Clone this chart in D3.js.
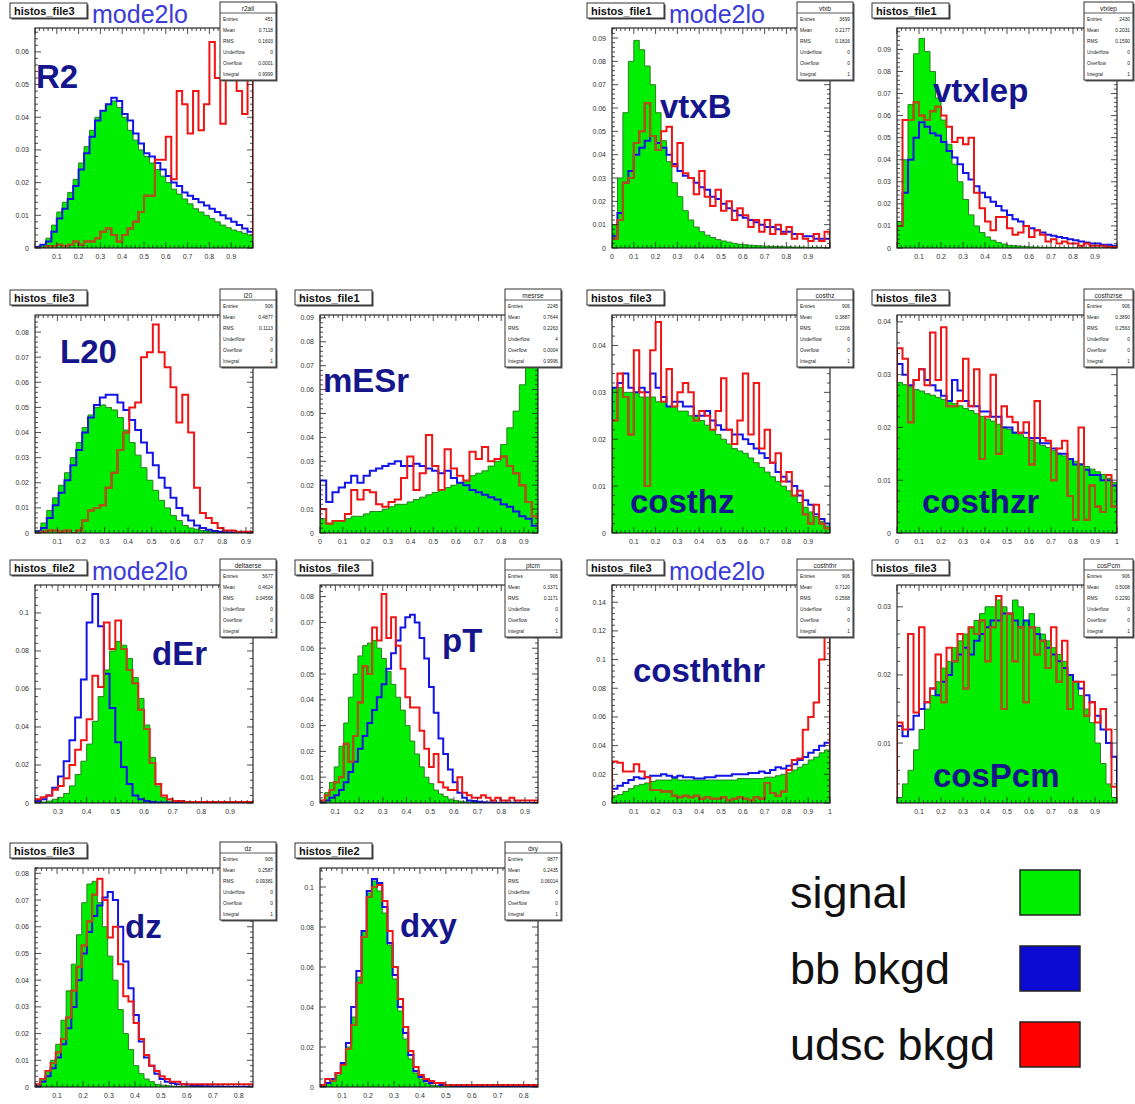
<!DOCTYPE html>
<html>
<head>
<meta charset="utf-8">
<script src="https://cdn.jsdelivr.net/npm/d3@7"></script>
<style>
  body { margin: 0; background: #fff; }
  svg { display: block; font-family: "Liberation Sans", Arial, Helvetica, sans-serif; }
</style>
</head>
<body>
<script>
// ---------------- histogram contents (normalised bin heights) ----------------
// Each variable: signal (filled), bb background, udsc background.

const r2Range = [0, 1];
const r2Signal = [0.0005,0.001,0.003,0.007,0.011,0.014,0.017,0.021,0.026,0.031,
  0.036,0.040,0.042,0.044,0.045,0.043,0.040,0.036,0.033,0.030,
  0.028,0.026,0.024,0.022,0.020,0.018,0.0165,0.015,0.0135,0.012,
  0.011,0.010,0.009,0.008,0.007,0.0062,0.0055,0.005,0.0045,0.004];
const r2BB = [0.0003,0.001,0.002,0.005,0.009,0.012,0.015,0.019,0.024,0.029,
  0.034,0.039,0.042,0.044,0.046,0.045,0.041,0.039,0.035,0.032,
  0.029,0.028,0.026,0.024,0.022,0.020,0.019,0.017,0.016,0.015,
  0.014,0.013,0.012,0.011,0.010,0.009,0.008,0.007,0.006,0.005];
const r2Udsc = [0,0,0.0005,0.0005,0.001,0.0005,0.001,0.002,0.001,0.002,
  0.002,0.003,0.005,0.006,0.004,0.002,0.004,0.006,0.008,0.011,
  0.016,0.016,0.027,0.027,0.034,0.021,0.048,0.044,0.035,0.048,
  0.036,0.044,0.063,0.052,0.038,0.052,0.060,0.048,0.041,0.052];

const vtxbRange = [0, 1];
const vtxbSignal = [0.010,0.030,0.058,0.080,0.089,0.085,0.078,0.070,0.058,0.046,
  0.037,0.028,0.022,0.016,0.012,0.009,0.007,0.0055,0.0045,0.0036,
  0.003,0.0025,0.002,0.0016,0.0014,0.0012,0.001,0.0009,0.0008,0.0007,
  0.0006,0.0005,0.0005,0.0004,0.0004,0.0003,0.0003,0.0003,0.0002,0.0002];
const vtxbBB = [0.005,0.015,0.028,0.033,0.040,0.043,0.046,0.048,0.045,0.043,
  0.040,0.036,0.033,0.031,0.030,0.028,0.026,0.025,0.022,0.021,
  0.019,0.017,0.016,0.014,0.013,0.012,0.011,0.010,0.009,0.009,
  0.008,0.007,0.007,0.006,0.006,0.005,0.005,0.004,0.004,0.004];
const vtxbUdsc = [0.004,0.012,0.028,0.030,0.045,0.050,0.062,0.048,0.042,0.050,
  0.052,0.035,0.045,0.032,0.030,0.023,0.033,0.022,0.018,0.025,
  0.016,0.020,0.012,0.017,0.014,0.009,0.012,0.007,0.012,0.006,
  0.010,0.006,0.009,0.004,0.006,0.004,0.003,0.006,0.003,0.007];

const vtxlepRange = [0, 1];
const vtxlepSignal = [0.012,0.040,0.065,0.088,0.095,0.089,0.080,0.068,0.058,0.047,
  0.038,0.030,0.022,0.015,0.010,0.007,0.005,0.0035,0.0025,0.0018,
  0.0012,0.001,0.0008,0.0006,0.0005,0.0004,0.0003,0.0003,0.0002,0.0002,
  0.0002,0.0001,0.0001,0.0001,0.0001,0.0001,0.0001,0.0001,0.0001,0.0001];
const vtxlepBB = [0.010,0.025,0.040,0.050,0.057,0.055,0.052,0.051,0.048,0.044,
  0.041,0.038,0.034,0.031,0.028,0.025,0.023,0.021,0.019,0.017,
  0.015,0.013,0.012,0.010,0.009,0.008,0.007,0.006,0.0055,0.005,
  0.0045,0.004,0.0035,0.003,0.0025,0.002,0.002,0.0015,0.0015,0.001];
const vtxlepUdsc = [0.010,0.058,0.058,0.066,0.060,0.058,0.062,0.064,0.060,0.055,
  0.048,0.050,0.047,0.050,0.025,0.018,0.012,0.008,0.014,0.014,
  0.009,0.006,0.007,0.010,0.005,0.008,0.006,0.003,0.004,0.002,
  0.003,0.002,0.002,0.001,0.002,0.001,0.001,0.001,0.0005,0.0005];

const l20Range = [0.005, 0.93];
const l20Signal = [0.001,0.004,0.009,0.014,0.019,0.024,0.030,0.036,0.042,0.047,
  0.050,0.051,0.050,0.049,0.046,0.041,0.036,0.031,0.026,0.021,
  0.017,0.013,0.010,0.007,0.005,0.003,0.002,0.0015,0.001,0.0007,
  0.0005,0.0003,0.0002,0.0002,0.0001,0.0001,0.0001];
const l20BB = [0.0005,0.002,0.006,0.011,0.016,0.021,0.027,0.033,0.040,0.046,
  0.051,0.054,0.055,0.055,0.052,0.049,0.045,0.041,0.036,0.032,
  0.027,0.022,0.018,0.014,0.010,0.007,0.005,0.003,0.002,0.0013,
  0.0008,0.0005,0.0003,0.0002,0.0001,0.0001,0.0001];
const l20Udsc = [0,0.0005,0.001,0.001,0.0005,0.001,0,0.001,0.005,0.009,
  0.010,0.011,0.018,0.024,0.033,0.040,0.050,0.052,0.070,0.072,
  0.083,0.072,0.066,0.058,0.044,0.055,0.040,0.018,0.008,0.006,
  0.004,0.002,0.001,0.001,0.0005,0.0005,0.0005];

const mesRange = [0, 0.9625];
const mesSignal = [0.006,0.004,0.005,0.005,0.006,0.007,0.007,0.008,0.009,0.009,
  0.010,0.011,0.012,0.012,0.013,0.014,0.015,0.016,0.017,0.018,
  0.019,0.020,0.021,0.022,0.024,0.025,0.026,0.028,0.030,0.037,
  0.044,0.051,0.062,0.070,0.087];
const mesBB = [0.022,0.013,0.017,0.019,0.021,0.024,0.021,0.024,0.026,0.027,
  0.028,0.029,0.030,0.028,0.028,0.029,0.028,0.027,0.026,0.025,
  0.026,0.023,0.021,0.020,0.018,0.017,0.016,0.015,0.014,0.012,
  0.011,0.009,0.007,0.006,0.003];
const mesUdsc = [0.010,0.004,0.005,0.005,0.008,0.018,0.014,0.018,0.017,0.012,
  0.011,0.013,0.014,0.023,0.032,0.018,0.025,0.041,0.028,0.018,
  0.035,0.027,0.024,0.022,0.034,0.031,0.036,0.030,0.031,0.032,
  0.028,0.025,0.020,0.013,0.007];

const costhzRange = [0, 1];
const costhzSignal = [0.031,0.031,0.030,0.030,0.030,0.029,0.029,0.029,0.028,0.028,
  0.027,0.027,0.026,0.026,0.025,0.025,0.024,0.023,0.022,0.021,
  0.020,0.019,0.018,0.0175,0.017,0.016,0.015,0.014,0.013,0.012,
  0.011,0.010,0.009,0.008,0.0065,0.0055,0.0045,0.0035,0.0025,0.0015];
const costhzBB = [0.031,0.032,0.034,0.031,0.030,0.031,0.030,0.034,0.031,0.029,
  0.027,0.028,0.028,0.027,0.027,0.025,0.025,0.026,0.024,0.023,
  0.022,0.022,0.021,0.021,0.020,0.019,0.018,0.017,0.016,0.015,
  0.013,0.012,0.011,0.010,0.008,0.007,0.006,0.004,0.003,0.002];
const costhzUdsc = [0.024,0.034,0.029,0.021,0.039,0.030,0.010,0.039,0.045,0.028,
  0.035,0.027,0.030,0.032,0.030,0.024,0.026,0.025,0.022,0.026,
  0.033,0.022,0.019,0.024,0.034,0.021,0.032,0.018,0.022,0.015,
  0.017,0.011,0.013,0.008,0.009,0.004,0.002,0.006,0.002,0.001];

const costhzrRange = [0, 1];
const costhzrSignal = [0.0285,0.0281,0.0277,0.0272,0.0269,0.0264,0.0261,0.0257,0.0253,0.0249,
  0.0245,0.0241,0.0236,0.0232,0.0226,0.0221,0.0216,0.0212,0.0206,0.0201,
  0.0196,0.0191,0.0186,0.0181,0.0176,0.0171,0.0166,0.0162,0.0156,0.0151,
  0.0146,0.0141,0.0136,0.0131,0.0126,0.0121,0.0116,0.0111,0.0104,0.0096];
const costhzrBB = [0.032,0.030,0.028,0.029,0.031,0.029,0.028,0.027,0.026,0.025,
  0.029,0.027,0.025,0.024,0.024,0.023,0.023,0.022,0.022,0.020,
  0.020,0.019,0.019,0.019,0.018,0.018,0.017,0.017,0.016,0.015,
  0.015,0.014,0.013,0.013,0.012,0.011,0.011,0.010,0.010,0.009];
const costhzrUdsc = [0.035,0.033,0.021,0.029,0.031,0.028,0.038,0.029,0.039,0.024,
  0.024,0.025,0.033,0.024,0.031,0.014,0.022,0.030,0.015,0.024,
  0.022,0.021,0.019,0.021,0.013,0.025,0.018,0.0175,0.010,0.016,
  0.0175,0.007,0.0025,0.020,0.0025,0.009,0.005,0.004,0.011,0.005];

const derRange = [0.22, 0.98];
const derSignal = [0.0003,0.0005,0.001,0.002,0.003,0.005,0.009,0.015,0.022,0.031,
  0.043,0.056,0.070,0.080,0.085,0.083,0.076,0.066,0.055,0.041,
  0.024,0.009,0.003,0.001,0.0005,0.0003,0.0002,0.0001,0.0001,0.0001,
  0,0,0,0,0,0,0,0];
const derBB = [0.001,0.002,0.004,0.008,0.014,0.022,0.033,0.045,0.065,0.095,
  0.110,0.093,0.068,0.050,0.032,0.019,0.010,0.004,0.002,0.001,
  0.0005,0.0003,0.0002,0.0001,0.0001,0.0001,0,0,0,0,
  0,0,0,0,0,0,0,0];
const derUdsc = [0.002,0.003,0.004,0.007,0.009,0.013,0.020,0.028,0.033,0.044,
  0.067,0.061,0.095,0.081,0.096,0.081,0.070,0.063,0.049,0.039,
  0.021,0.010,0.004,0.002,0.001,0.001,0.0005,0.0005,0.0005,0.0005,
  0.0005,0.0005,0.0005,0.0005,0.0005,0.0005,0.0005,0.0005];

const ptRange = [0.035, 0.955];
const ptSignal = [0.001,0.004,0.008,0.014,0.022,0.031,0.041,0.050,0.057,0.061,
  0.062,0.063,0.060,0.056,0.051,0.046,0.041,0.036,0.030,0.024,
  0.019,0.014,0.010,0.0075,0.005,0.0035,0.0025,0.0015,0.001,0.0007,
  0.0005,0.0003,0.0002,0.0002,0.0001,0.0001,0.0001,0.0001,0.0001,0.0001,
  0.0001,0.0001,0,0,0,0];
const ptBB = [0.0003,0.001,0.002,0.003,0.005,0.008,0.012,0.016,0.021,0.026,
  0.031,0.036,0.041,0.046,0.052,0.058,0.063,0.068,0.072,0.073,
  0.070,0.064,0.056,0.045,0.035,0.025,0.019,0.013,0.008,0.004,
  0.002,0.001,0.0008,0.0005,0.0003,0.0002,0.0002,0.0001,0.0001,0.0001,
  0.0001,0.0001,0,0,0,0];
const ptUdsc = [0.001,0.003,0.005,0.008,0.010,0.023,0.016,0.026,0.039,0.053,
  0.050,0.068,0.063,0.081,0.064,0.072,0.061,0.052,0.041,0.037,
  0.037,0.028,0.021,0.014,0.019,0.008,0.006,0.005,0.005,0.010,
  0.004,0.003,0.002,0.002,0.003,0.002,0.001,0.002,0.001,0.001,
  0.002,0.001,0.001,0.001,0.001,0.001];

const cosththrRange = [0, 1];
const cosththrSignal = [0.005,0.006,0.008,0.010,0.012,0.013,0.014,0.015,0.016,0.016,
  0.016,0.017,0.016,0.016,0.016,0.016,0.016,0.016,0.016,0.016,
  0.016,0.016,0.016,0.017,0.017,0.017,0.017,0.017,0.018,0.018,
  0.019,0.020,0.021,0.023,0.025,0.027,0.030,0.032,0.035,0.037];
const cosththrBB = [0.010,0.012,0.014,0.016,0.018,0.017,0.018,0.019,0.019,0.020,
  0.019,0.018,0.019,0.018,0.018,0.017,0.017,0.018,0.018,0.019,
  0.019,0.019,0.020,0.020,0.020,0.021,0.021,0.022,0.021,0.023,
  0.025,0.024,0.026,0.027,0.030,0.032,0.035,0.037,0.040,0.042];
const cosththrUdsc = [0.029,0.028,0.022,0.022,0.027,0.022,0.018,0.009,0.009,0.008,
  0.008,0.005,0.004,0.005,0.004,0.005,0.003,0.004,0.003,0.003,
  0.004,0.002,0.003,0.004,0.003,0.002,0.004,0.003,0.014,0.007,
  0.005,0.008,0.023,0.030,0.031,0.051,0.060,0.070,0.100,0.145];

const cospcmRange = [0, 1];
const cospcmSignal = [0.002,0.004,0.006,0.009,0.012,0.015,0.017,0.019,0.021,0.022,
  0.024,0.025,0.026,0.027,0.028,0.029,0.030,0.030,0.031,0.030,
  0.029,0.031,0.030,0.028,0.029,0.027,0.026,0.025,0.024,0.023,
  0.022,0.020,0.019,0.017,0.015,0.013,0.010,0.007,0.004,0.002];
const cospcmBB = [0.0125,0.011,0.012,0.014,0.015,0.016,0.018,0.017,0.019,0.020,
  0.022,0.023,0.024,0.023,0.025,0.026,0.027,0.028,0.028,0.029,
  0.029,0.028,0.027,0.028,0.027,0.026,0.025,0.024,0.023,0.022,
  0.021,0.020,0.019,0.018,0.017,0.016,0.014,0.012,0.010,0.008];
const cospcmUdsc = [0.013,0.012,0.026,0.0145,0.027,0.016,0.018,0.023,0.016,0.024,
  0.022,0.026,0.018,0.027,0.026,0.028,0.022,0.027,0.0316,0.015,
  0.029,0.022,0.027,0.016,0.027,0.023,0.025,0.021,0.027,0.019,
  0.025,0.015,0.019,0.019,0.014,0.016,0.013,0.015,0.012,0.0036];

const dzRange = [0.015, 0.855];
const dzSignal = [0.001,0.003,0.006,0.010,0.016,0.025,0.036,0.046,0.057,0.069,
  0.076,0.077,0.069,0.060,0.049,0.040,0.029,0.020,0.014,0.008,
  0.005,0.003,0.002,0.001,0.0007,0.0005,0.0003,0.0002,0.0002,0.0001,
  0.0001,0.0001,0.0001,0.0001,0,0,0,0,0,0,0,0];
const dzBB = [0.0005,0.002,0.004,0.007,0.011,0.016,0.022,0.030,0.040,0.050,
  0.058,0.064,0.068,0.071,0.073,0.070,0.060,0.047,0.037,0.027,
  0.017,0.011,0.008,0.005,0.003,0.002,0.0015,0.001,0.001,0.0008,
  0.0005,0.0005,0.0003,0.0003,0.0002,0.0002,0.0001,0.0001,0.0001,0.0001,0.0001,0.0001];
const dzUdsc = [0.001,0.003,0.006,0.009,0.013,0.018,0.026,0.036,0.045,0.053,
  0.062,0.072,0.078,0.070,0.056,0.060,0.046,0.034,0.032,0.024,
  0.018,0.012,0.008,0.006,0.004,0.003,0.002,0.002,0.001,0.001,
  0.001,0.001,0.001,0.001,0.001,0.001,0.001,0.001,0.001,0.001,0.001,0.001];

const dxyRange = [0.015, 0.855];
const dxySignal = [0.0005,0.002,0.004,0.006,0.011,0.020,0.035,0.055,0.078,0.097,
  0.103,0.098,0.087,0.071,0.054,0.038,0.024,0.014,0.007,0.004,
  0.002,0.001,0.0007,0.0005,0.0003,0.0002,0.0002,0.0001,0.0001,0.0001,
  0,0,0,0,0,0,0,0,0,0,0,0];
const dxyBB = [0.0005,0.002,0.004,0.007,0.012,0.022,0.040,0.058,0.078,0.098,
  0.104,0.102,0.090,0.072,0.056,0.040,0.027,0.016,0.008,0.005,
  0.003,0.002,0.002,0.001,0.001,0.0008,0.0005,0.0005,0.0003,0.0003,
  0.0002,0.0002,0.0001,0.0001,0.0001,0.0001,0.0001,0.0001,0,0,0,0];
const dxyUdsc = [0.001,0.004,0.003,0.007,0.011,0.019,0.031,0.052,0.075,0.095,
  0.100,0.101,0.093,0.078,0.060,0.044,0.030,0.018,0.010,0.006,
  0.004,0.003,0.002,0.002,0.001,0.001,0.001,0.001,0.001,0.001,
  0.001,0.001,0.001,0.001,0.001,0.001,0.001,0.001,0.001,0.001,0.001,0.001];

// ---------------- axis ranges and tick labels ----------------
const yRanges = [[0,0.0673],[0,0.0943],[0,0.0997],[0,0.0868],[0,0.0912],[0,0.0465],[0,0.0413],
                 [0,0.1147],[0,0.0845],[0,0.152],[0.0012,0.0332],[0,0.082],[0,0.1095]];
const yTickSteps = [0.01,0.01,0.01,0.01,0.01,0.01,0.01,0.02,0.01,0.02,0.01,0.01,0.02];
const yTickLabels = [
  [0,0.01,0.02,0.03,0.04,0.05,0.06],
  [0,0.01,0.02,0.03,0.04,0.05,0.06,0.07,0.08,0.09],
  [0,0.01,0.02,0.03,0.04,0.05,0.06,0.07,0.08,0.09],
  [0,0.01,0.02,0.03,0.04,0.05,0.06,0.07,0.08],
  [0,0.01,0.02,0.03,0.04,0.05,0.06,0.07,0.08,0.09],
  [0,0.01,0.02,0.03,0.04],
  [0,0.01,0.02,0.03,0.04],
  [0,0.02,0.04,0.06,0.08,0.1],
  [0,0.01,0.02,0.03,0.04,0.05,0.06,0.07,0.08],
  [0,0.02,0.04,0.06,0.08,0.1,0.12,0.14],
  [0.01,0.02,0.03],
  [0,0.01,0.02,0.03,0.04,0.05,0.06,0.07,0.08],
  [0,0.02,0.04,0.06,0.08,0.1]
];
const xTickLabels = [
  [0.1,0.2,0.3,0.4,0.5,0.6,0.7,0.8,0.9],
  [0,0.1,0.2,0.3,0.4,0.5,0.6,0.7,0.8,0.9],
  [0.1,0.2,0.3,0.4,0.5,0.6,0.7,0.8,0.9],
  [0.1,0.2,0.3,0.4,0.5,0.6,0.7,0.8,0.9],
  [0,0.1,0.2,0.3,0.4,0.5,0.6,0.7,0.8,0.9],
  [0.1,0.2,0.3,0.4,0.5,0.6,0.7,0.8,0.9],
  [0,0.1,0.2,0.3,0.4,0.5,0.6,0.7,0.8,0.9,1],
  [0.3,0.4,0.5,0.6,0.7,0.8,0.9],
  [0.1,0.2,0.3,0.4,0.5,0.6,0.7,0.8,0.9],
  [0.1,0.2,0.3,0.4,0.5,0.6,0.7,0.8,0.9,1],
  [0.1,0.2,0.3,0.4,0.5,0.6,0.7,0.8,0.9],
  [0.1,0.2,0.3,0.4,0.5,0.6,0.7,0.8],
  [0.1,0.2,0.3,0.4,0.5,0.6,0.7,0.8]
];

// ---------------- labels ----------------
const varLabels = ["R2","vtxB","vtxlep","L20","mESr","costhz","costhzr","dEr","pT","cosththr","cosPcm","dz","dxy"];
const fileTitles = ["histos_file3","histos_file1","histos_file1","histos_file3","histos_file1","histos_file3",
                    "histos_file3","histos_file2","histos_file3","histos_file3","histos_file3","histos_file3","histos_file2"];
const modeTags = ["mode2lo","mode2lo","","","","","","mode2lo","","mode2lo","","",""];
const statsHeaders = ["r2all","vtxb","vtxlep","l20","mesrse","costhz","costhzrse","deltaerse","ptcm","cosththr","cosPcm","dz","dxy"];
const statsRowNames = ["Entries","Mean","RMS","Underflow","Overflow","Integral"];
const statsEntries = ["451","3699","2430","906","2245","906","906","5677","906","906","906","906","9877"];
const statsMean = ["0.7118","0.2177","0.2031","0.4877","0.7644","0.3887","0.3890","0.4624","0.3371","0.7120","0.5008","0.2587","0.2435"];
const statsRMS = ["0.1603","0.1816","0.1590","0.1113","0.2263","0.2206","0.2563","0.04568","0.1171","0.2568","0.2290","0.09381","0.06014"];
const statsUnder = ["0","0","0","0","4","0","0","0","0","0","0","0","0"];
const statsOver = ["0.0001","0","0","0","0.0004","0","0","0","0","0","0","0","0"];
const statsIntegral = ["0.9999","1","1","1","0.9996","1","1","1","1","1","1","1","1"];

const legendLabels = ["signal", "bb bkgd", "udsc bkgd"];

// ---------------- page layout ----------------
const pageW = 1135, pageH = 1104;
const colX = [35, 320, 612, 897];
const colW = [218, 218, 218, 220];
const rowY = [28, 315, 585, 868];
const rowH = [220, 218, 218, 219];
const cells = [[0,0],[2,0],[3,0],[0,1],[1,1],[2,1],[3,1],[0,2],[1,2],[2,2],[3,2],[0,3],[1,3]];
// variable-name position relative to the frame's top-left corner (text start, baseline)
const labelOffsets = [[1,60],[48,90],[36,74],[25,48],[3,77],[18,198],[25,198],[117,80],[122,67],[21,97],[36,202],[90,70],[80,69]];

const colors = {
  signal: "#00ee00", signalEdge: "#2a7f20",
  bb: "#1414e6", udsc: "#f01414", udscOnSignal: "#a8561a",
  varLabel: "#16168c", modeTag: "#3c3cd6", axisText: "#333"
};

const hist = [
  {range: r2Range, s: r2Signal, b: r2BB, u: r2Udsc},
  {range: vtxbRange, s: vtxbSignal, b: vtxbBB, u: vtxbUdsc},
  {range: vtxlepRange, s: vtxlepSignal, b: vtxlepBB, u: vtxlepUdsc},
  {range: l20Range, s: l20Signal, b: l20BB, u: l20Udsc},
  {range: mesRange, s: mesSignal, b: mesBB, u: mesUdsc},
  {range: costhzRange, s: costhzSignal, b: costhzBB, u: costhzUdsc},
  {range: costhzrRange, s: costhzrSignal, b: costhzrBB, u: costhzrUdsc},
  {range: derRange, s: derSignal, b: derBB, u: derUdsc},
  {range: ptRange, s: ptSignal, b: ptBB, u: ptUdsc},
  {range: cosththrRange, s: cosththrSignal, b: cosththrBB, u: cosththrUdsc},
  {range: cospcmRange, s: cospcmSignal, b: cospcmBB, u: cospcmUdsc},
  {range: dzRange, s: dzSignal, b: dzBB, u: dzUdsc},
  {range: dxyRange, s: dxySignal, b: dxyBB, u: dxyUdsc}
];

const fmt = v => String(+v.toFixed(4));

const svg = d3.select("body").append("svg")
  .attr("width", pageW).attr("height", pageH);
svg.append("rect").attr("width", pageW).attr("height", pageH).attr("fill", "#fff");
const defs = svg.append("defs");

hist.forEach((h, k) => {
  const [c, r] = cells[k];
  const fx = colX[c], fy = rowY[r], fw = colW[c], fh = rowH[r];
  const x = d3.scaleLinear().domain(h.range).range([fx, fx + fw]);
  const y = d3.scaleLinear().domain(yRanges[k]).range([fy + fh, fy]);
  const g = svg.append("g");

  defs.append("clipPath").attr("id", "frame" + k)
    .append("rect").attr("x", fx).attr("y", fy).attr("width", fw).attr("height", fh);

  const n = h.s.length;
  const edge = i => h.range[0] + (h.range[1] - h.range[0]) * i / n;
  const topPts = vals => vals.map((v, i) => [edge(i), v]).concat([[edge(vals.length), vals[vals.length - 1]]]);
  const outlinePts = vals => [[edge(0), 0]].concat(topPts(vals), [[edge(vals.length), 0]]);

  const line = d3.line().curve(d3.curveStepAfter).x(d => x(d[0])).y(d => y(d[1]));
  const area = d3.area().curve(d3.curveStepAfter).x(d => x(d[0])).y0(y(0)).y1(d => y(d[1]));

  const plot = g.append("g").attr("clip-path", `url(#frame${k})`);
  const signalArea = area(topPts(h.s));
  defs.append("clipPath").attr("id", "sig" + k).append("path").attr("d", signalArea);

  plot.append("path").attr("d", signalArea).attr("fill", colors.signal);
  plot.append("path").attr("d", line(outlinePts(h.s)))
    .attr("fill", "none").attr("stroke", colors.signalEdge).attr("stroke-width", 1);
  plot.append("path").attr("d", line(outlinePts(h.b)))
    .attr("fill", "none").attr("stroke", colors.bb).attr("stroke-width", 2);
  const udscLine = line(outlinePts(h.u));
  plot.append("path").attr("d", udscLine)
    .attr("fill", "none").attr("stroke", colors.udsc).attr("stroke-width", 2);
  plot.append("g").attr("clip-path", `url(#sig${k})`)
    .append("path").attr("d", udscLine)
    .attr("fill", "none").attr("stroke", colors.udscOnSignal).attr("stroke-width", 2);

  // frame
  g.append("rect").attr("x", fx).attr("y", fy).attr("width", fw).attr("height", fh)
    .attr("fill", "none").attr("stroke", "#000").attr("stroke-width", 1);

  // ticks on all four sides
  const ticks = g.append("g").attr("stroke", "#222").attr("stroke-width", 0.8);
  const [x0, x1] = h.range;
  for (let i = Math.ceil(x0 * 50 - 1e-6); i <= Math.floor(x1 * 50 + 1e-6); i++) {
    const v = i / 50, major = i % 5 === 0, len = major ? 6 : 3, px = x(v);
    ticks.append("line").attr("x1", px).attr("x2", px).attr("y1", fy + fh).attr("y2", fy + fh - len);
    ticks.append("line").attr("x1", px).attr("x2", px).attr("y1", fy).attr("y2", fy + len);
  }
  const [y0, y1] = yRanges[k];
  const ms = yTickSteps[k] / 5;
  for (let i = Math.ceil(y0 / ms - 1e-6); i <= Math.floor(y1 / ms + 1e-6); i++) {
    const v = i * ms, major = i % 5 === 0, len = major ? 6 : 3, py = y(v);
    ticks.append("line").attr("x1", fx).attr("x2", fx + len).attr("y1", py).attr("y2", py);
    ticks.append("line").attr("x1", fx + fw).attr("x2", fx + fw - len).attr("y1", py).attr("y2", py);
  }

  // tick labels
  g.selectAll(".yl").data(yTickLabels[k]).enter().append("text")
    .attr("x", fx - 6).attr("y", d => y(d) + 2.5)
    .attr("text-anchor", "end").attr("font-size", 7).attr("fill", colors.axisText)
    .text(fmt);
  g.selectAll(".xl").data(xTickLabels[k]).enter().append("text")
    .attr("x", d => x(d)).attr("y", fy + fh + 11)
    .attr("text-anchor", "middle").attr("font-size", 7).attr("fill", colors.axisText)
    .text(fmt);

  // variable name
  g.append("text").attr("x", fx + labelOffsets[k][0]).attr("y", fy + labelOffsets[k][1])
    .attr("font-size", 33).attr("font-weight", "bold").attr("fill", colors.varLabel)
    .text(varLabels[k]);

  // file title box
  const tb = {x: fx - 25, y: fy - 25, w: 77, h: 15};
  g.append("rect").attr("x", tb.x + 1.5).attr("y", tb.y + 1.5).attr("width", tb.w).attr("height", tb.h).attr("fill", "#444");
  g.append("rect").attr("x", tb.x).attr("y", tb.y).attr("width", tb.w).attr("height", tb.h)
    .attr("fill", "#fff").attr("stroke", "#333").attr("stroke-width", 1);
  g.append("text").attr("x", tb.x + 4).attr("y", tb.y + 11.5)
    .attr("font-size", 11).attr("font-weight", "bold").attr("fill", "#111")
    .text(fileTitles[k]);

  if (modeTags[k]) {
    g.append("text").attr("x", tb.x + tb.w + 5).attr("y", fy - 5)
      .attr("font-size", 25).attr("fill", colors.modeTag).text(modeTags[k]);
  }

  // statistics box (kept inside the page on the right-hand column)
  const sbx = fx + fw - 33;
  const sb = {x: sbx, y: fy - 26, w: Math.min(56, pageW - 2 - sbx), h: 78};
  g.append("rect").attr("x", sb.x + 1.5).attr("y", sb.y + 1.5).attr("width", sb.w).attr("height", sb.h).attr("fill", "#555");
  g.append("rect").attr("x", sb.x).attr("y", sb.y).attr("width", sb.w).attr("height", sb.h)
    .attr("fill", "#fff").attr("stroke", "#333").attr("stroke-width", 1);
  g.append("line").attr("x1", sb.x).attr("x2", sb.x + sb.w).attr("y1", sb.y + 11).attr("y2", sb.y + 11)
    .attr("stroke", "#333").attr("stroke-width", 0.8);
  g.append("text").attr("x", sb.x + sb.w / 2).attr("y", sb.y + 8.5).attr("text-anchor", "middle")
    .attr("font-size", 6.5).attr("fill", "#222").text(statsHeaders[k]);
  const vals = [statsEntries[k], statsMean[k], statsRMS[k], statsUnder[k], statsOver[k], statsIntegral[k]];
  statsRowNames.forEach((nm, j) => {
    const ty = sb.y + 11 + (j + 0.75) * 11;
    g.append("text").attr("x", sb.x + 3).attr("y", ty).attr("font-size", 4.8).attr("fill", "#222").text(nm);
    g.append("text").attr("x", sb.x + sb.w - 3).attr("y", ty).attr("text-anchor", "end")
      .attr("font-size", 4.8).attr("fill", "#222").text(vals[j]);
  });
});

// ---------------- legend ----------------
const legendColors = [colors.signal, "#0a0ad2", "#ff0000"];
const legendY = [870, 946, 1022];
const legend = svg.append("g");
legendLabels.forEach((lab, i) => {
  legend.append("text").attr("x", 790).attr("y", legendY[i] + 38)
    .attr("font-size", 45).attr("fill", "#111").text(lab);
  legend.append("rect").attr("x", 1020).attr("y", legendY[i]).attr("width", 60).attr("height", 45)
    .attr("fill", legendColors[i]).attr("stroke", "#222").attr("stroke-width", 1.5);
});
</script>
</body>
</html>
